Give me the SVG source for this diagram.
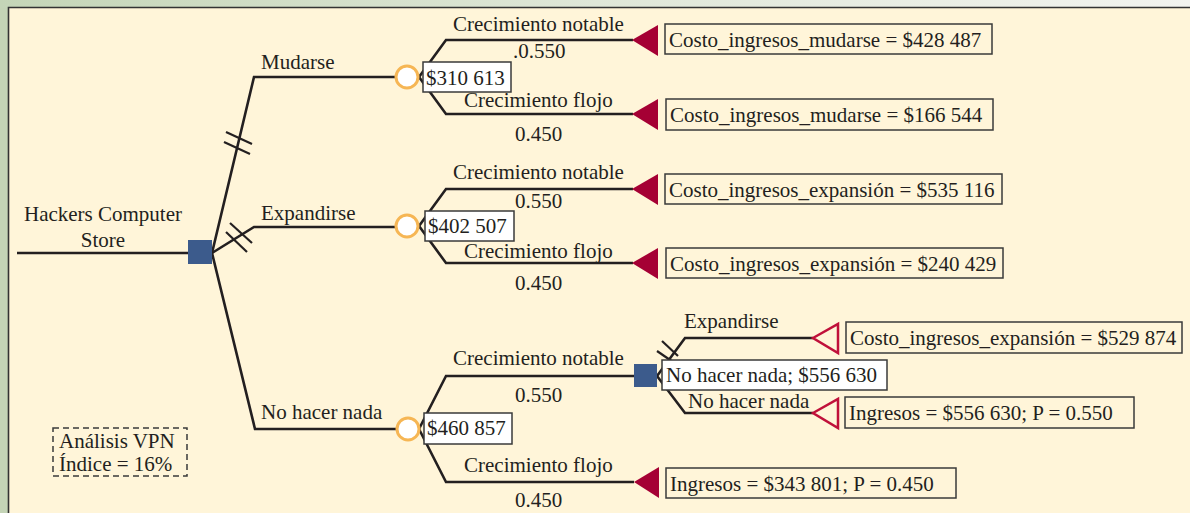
<svg xmlns="http://www.w3.org/2000/svg" width="1190" height="513" viewBox="0 0 1190 513">
<style>
.t{font-family:"Liberation Serif","Times New Roman",serif;font-size:21px;fill:#231f20}
.ln{fill:none;stroke:#231f20;stroke-width:2.6;stroke-linejoin:miter}
.tick{stroke:#231f20;stroke-width:2.2}
.box{fill:none;stroke:#3a3a3a;stroke-width:1.5}
.vbox{fill:#ffffff;stroke:#3a3a3a;stroke-width:1.5}
.tri{fill:#a50034}
.htri{fill:none;stroke:#c0103a;stroke-width:2.5}
.chance{fill:#ffffff;stroke:#f6b654;stroke-width:3}
.dec{fill:#3c5b8c}
.dash{fill:none;stroke:#3a3a3a;stroke-width:1.5;stroke-dasharray:6 4}
</style>
<defs>
<linearGradient id="band" x1="0" y1="0" x2="1" y2="0">
<stop offset="0" stop-color="#c4d5b7"/>
<stop offset="0.5" stop-color="#dfe7d8"/>
<stop offset="1" stop-color="#f2f3ef"/>
</linearGradient>
</defs>
<rect x="0" y="0" width="1190" height="513" fill="#c4d4b6"/>
<rect x="0" y="0" width="1190" height="8" fill="url(#band)"/>
<rect x="8" y="7" width="1182" height="506" fill="#fff5d9"/>
<path d="M8.5,513 V7.5 H1190" fill="none" stroke="#333" stroke-width="1.6"/>

<g id="connectors">
<path class="ln" d="M17,253 H189"/>
<path class="ln" d="M212,253 L254,77 H396"/>
<path class="ln" d="M212,253 L254,227 H396"/>
<path class="ln" d="M212,253 L255,429 H397"/>
<path class="ln" d="M419,77 L446,40 H633"/>
<path class="ln" d="M419,77 L446,114 H633"/>
<path class="ln" d="M419,226 L446,189 H633"/>
<path class="ln" d="M419,226 L446,263 H633"/>
<path class="ln" d="M419,429 L446,376 H634"/>
<path class="ln" d="M419,429 L446,482 H634"/>
<path class="ln" d="M657,376 L685,338 H813"/>
<path class="ln" d="M657,376 L685,413 H813"/>
<line class="tick" x1="226" y1="132" x2="252" y2="144"/>
<line class="tick" x1="224" y1="142" x2="250" y2="154"/>
<line class="tick" x1="230" y1="223" x2="252" y2="243"/>
<line class="tick" x1="226" y1="232" x2="247" y2="252"/>
<line class="tick" x1="662" y1="341" x2="678" y2="356"/>
<line class="tick" x1="657" y1="351" x2="673" y2="362"/>
</g>

<g id="root">
<rect class="dec" x="188" y="240" width="24" height="24"/>
<text class="t" x="103" y="221" text-anchor="middle">Hackers Computer</text>
<text class="t" x="103" y="247" text-anchor="middle">Store</text>
</g>

<g id="lbl-mudarse"><text class="t" x="261" y="69">Mudarse</text></g>
<g id="lbl-expandirse"><text class="t" x="261" y="220">Expandirse</text></g>
<g id="lbl-nohacer"><text class="t" x="261" y="419">No hacer nada</text></g>

<g id="chance-mudarse">
<circle class="chance" cx="407" cy="77" r="11"/>
<text class="t" x="453" y="31">Crecimiento notable</text>
<text class="t" x="513" y="58">.0.550</text>
<text class="t" x="464" y="107">Crecimiento flojo</text>
<text class="t" x="515" y="141">0.450</text>
<rect class="vbox" x="423" y="62" width="88" height="30"/>
<text class="t" x="426" y="85">$310 613</text>
</g>

<g id="chance-expandirse">
<circle class="chance" cx="407" cy="226" r="11"/>
<text class="t" x="453" y="179">Crecimiento notable</text>
<text class="t" x="515" y="208">0.550</text>
<text class="t" x="464" y="258">Crecimiento flojo</text>
<text class="t" x="515" y="290">0.450</text>
<rect class="vbox" x="425" y="211" width="89" height="30"/>
<text class="t" x="428" y="233">$402 507</text>
</g>

<g id="chance-nohacer">
<circle class="chance" cx="408" cy="429" r="11"/>
<text class="t" x="453" y="365">Crecimiento notable</text>
<text class="t" x="515" y="402">0.550</text>
<text class="t" x="464" y="472">Crecimiento flojo</text>
<text class="t" x="515" y="507">0.450</text>
<rect class="vbox" x="424" y="413" width="88" height="31"/>
<text class="t" x="427" y="435">$460 857</text>
</g>

<g id="term-mudarse-notable">
<polygon class="tri" points="632,40 658,25 658,56"/>
<rect class="box" x="665" y="24" width="327" height="30"/>
<text class="t" x="669" y="47">Costo_ingresos_mudarse = $428 487</text>
</g>
<g id="term-mudarse-flojo">
<polygon class="tri" points="632,114 658,99 658,130"/>
<rect class="box" x="666" y="99" width="327" height="31"/>
<text class="t" x="670" y="122">Costo_ingresos_mudarse = $166 544</text>
</g>
<g id="term-expansion-notable">
<polygon class="tri" points="632,189 658,174 658,205"/>
<rect class="box" x="665" y="174" width="337" height="30"/>
<text class="t" x="669" y="197">Costo_ingresos_expansión = $535 116</text>
</g>
<g id="term-expansion-flojo">
<polygon class="tri" points="632,263 658,248 658,279"/>
<rect class="box" x="666" y="248" width="337" height="30"/>
<text class="t" x="670" y="271">Costo_ingresos_expansión = $240 429</text>
</g>

<g id="decision-sub">
<rect class="dec" x="634" y="364" width="23" height="23"/>
<text class="t" x="684" y="328">Expandirse</text>
<text class="t" x="688" y="408">No hacer nada</text>
<rect class="vbox" x="662" y="360" width="225" height="30"/>
<text class="t" x="666" y="382">No hacer nada; $556 630</text>
</g>

<g id="term-sub-expandirse">
<polygon class="htri" points="813,338 838,324 838,353"/>
<rect class="box" x="846" y="322" width="336" height="31"/>
<text class="t" x="850" y="345">Costo_ingresos_expansión = $529 874</text>
</g>
<g id="term-sub-nohacer">
<polygon class="htri" points="813,413 838,399 838,428"/>
<rect class="box" x="845" y="397" width="289" height="31"/>
<text class="t" x="849" y="420">Ingresos = $556 630; P = 0.550</text>
</g>
<g id="term-nohacer-flojo">
<polygon class="tri" points="634,482 659,467 659,498"/>
<rect class="box" x="666" y="468" width="290" height="30"/>
<text class="t" x="670" y="491">Ingresos = $343 801; P = 0.450</text>
</g>

<g id="note">
<rect class="dash" x="53" y="428" width="134" height="48"/>
<text class="t" x="59" y="448">Análisis VPN</text>
<text class="t" x="59" y="471">Índice = 16%</text>
</g>
</svg>
